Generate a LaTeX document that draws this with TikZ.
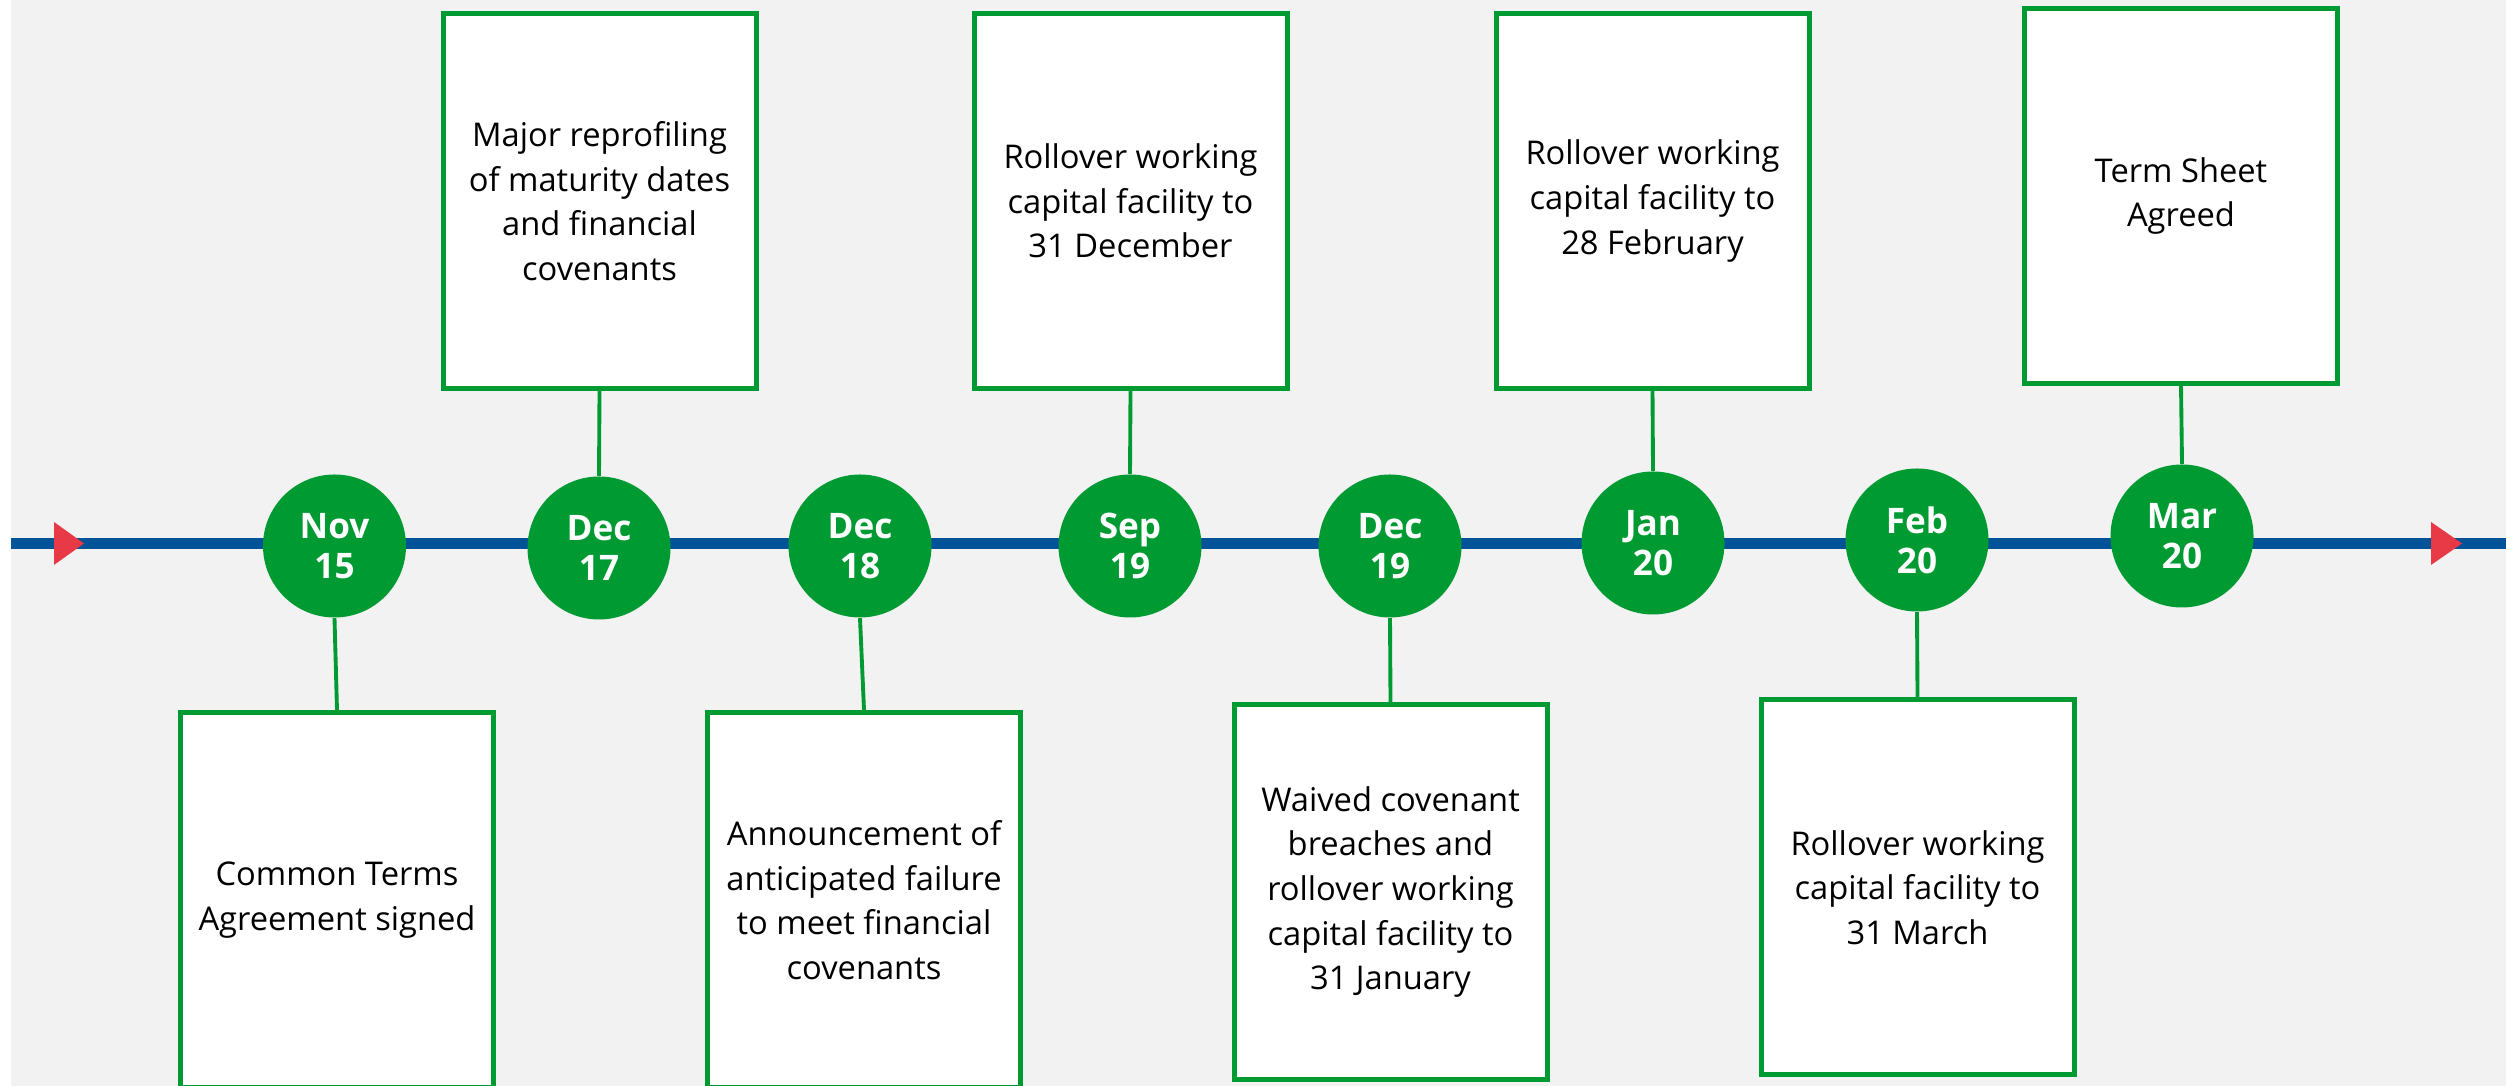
\documentclass[tikz,border=0pt]{standalone}
\usepackage{fontspec}
\setmainfont{Open Sans}
\usepackage{tikz}
\usepackage{xcolor}
\definecolor{eventgreen}{RGB}{0,154,51}
\definecolor{lineblue}{RGB}{0,83,150}
\definecolor{markred}{RGB}{232,57,70}
\definecolor{bggray}{RGB}{242,242,242}
\tikzset{
    event-box/.style = {draw=eventgreen, fill=white, line width=1.42pt, rectangle, minimum width=3.13cm, minimum height=3.75cm, align=center, inner sep=2pt, font=\fontsize{9.3}{12.7}\selectfont},
    date-circle/.style = {fill=eventgreen, circle, minimum size=1.43cm, inner sep=0pt, align=center, text=white, font=\fontsize{10}{11.4}\selectfont\bfseries},
    time-line/.style = {draw=lineblue, line width=3.4pt},
    link-line/.style = {draw=eventgreen, line width=1.1pt},
}

\begin{document}
\begin{tikzpicture}
\useasboundingbox (0,0) rectangle (25.06,10.86);
\fill[white] (0,0) rectangle (25.06,10.86);
\fill[bggray] (0.11,0) rectangle (25.06,10.86);

% axis with its two red markers
\draw[time-line] (0.11,5.425) -- (25.06,5.425);
\fill[markred] (0.54,5.64) -- (0.84,5.425) -- (0.54,5.21) -- cycle;
\fill[markred] (24.31,5.64) -- (24.62,5.425) -- (24.31,5.21) -- cycle;

% dates
\node[date-circle] (nov15) at (3.345,5.40) {Nov\\15};
\node[date-circle] (dec17) at (5.99,5.38) {Dec\\17};
\node[date-circle] (dec18) at (8.60,5.40) {Dec\\18};
\node[date-circle] (sep19) at (11.30,5.40) {Sep\\19};
\node[date-circle] (dec19) at (13.90,5.40) {Dec\\19};
\node[date-circle] (jan20) at (16.53,5.43) {Jan\\20};
\node[date-circle] (feb20) at (19.17,5.46) {Feb\\20};
\node[date-circle] (mar20) at (21.82,5.50) {Mar\\20};

% events
\node[event-box] (nov15-box) at (3.37,1.86) {Common Terms\\Agreement signed};
\node[event-box] (dec17-box) at (5.995,8.85) {Major reprofiling\\of maturity dates\\and financial\\covenants};
\node[event-box] (dec18-box) at (8.64,1.86) {Announcement of\\anticipated failure\\to meet financial\\covenants};
\node[event-box] (sep19-box) at (11.305,8.85) {Rollover working\\capital facility to\\31 December};
\node[event-box] (dec19-box) at (13.905,1.94) {Waived covenant\\breaches and\\rollover working\\capital facility to\\31 January};
\node[event-box] (jan20-box) at (16.525,8.85) {Rollover working\\capital facility to\\28 February};
\node[event-box] (feb20-box) at (19.175,1.985) {Rollover working\\capital facility to\\31 March};
\node[event-box] (mar20-box) at (21.81,8.90) {Term Sheet\\Agreed};

\draw[link-line] (nov15-box.north) -- (nov15.south);
\draw[link-line] (dec17-box.south) -- (dec17.north);
\draw[link-line] (dec18-box.north) -- (dec18.south);
\draw[link-line] (sep19-box.south) -- (sep19.north);
\draw[link-line] (dec19-box.north) -- (dec19.south);
\draw[link-line] (jan20-box.south) -- (jan20.north);
\draw[link-line] (feb20-box.north) -- (feb20.south);
\draw[link-line] (mar20-box.south) -- (mar20.north);
\end{tikzpicture}
\end{document}
